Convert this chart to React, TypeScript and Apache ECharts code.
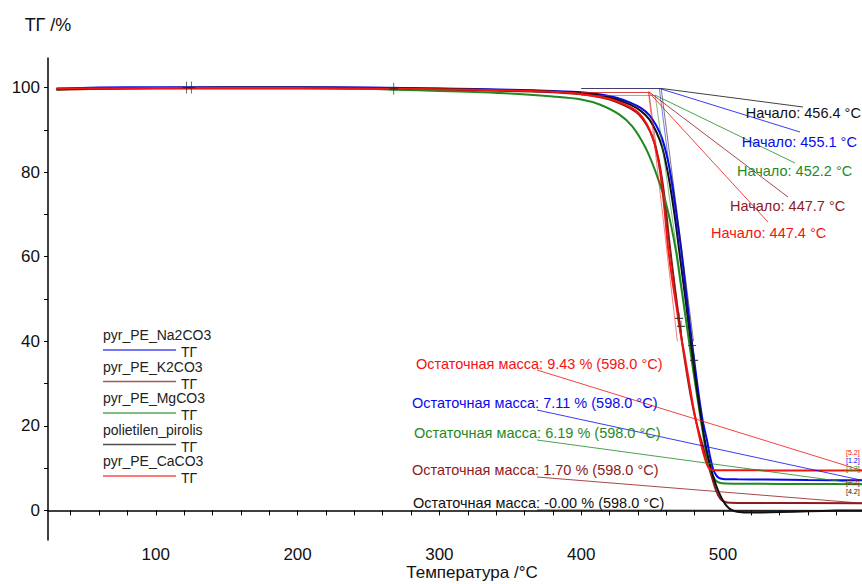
import React, { useEffect, useRef } from "react";
import * as echarts from "echarts";

// ---------- data ----------
const seriesNames = ["pyr_PE_Na2CO3", "pyr_PE_K2CO3", "pyr_PE_MgCO3", "polietilen_pirolis", "pyr_PE_CaCO3"];
const seriesColors = ["#0a0aef", "#8e1b1b", "#1f8a1f", "#111111", "#f51212"];
const legendSuffix = "ТГ";

const na2co3: [number, number][] = [
  [30, 99.8], [60, 100.0], [100, 100.1], [150, 100.1], [200, 100.1], [250, 100.0], [300, 99.8],
  [350, 99.5], [380, 99.2], [400, 98.9], [415, 98.3], [425, 97.6], [435, 96.4], [442, 95.2],
  [448, 93.5], [453, 91], [457, 88], [461, 83], [464, 77.5], [467, 70.5], [470.4, 62], [474, 51.5],
  [478, 40], [482, 29.5], [485.5, 21.5], [488.7, 16.6], [491, 12.5], [493, 9.8], [495, 8.4],
  [497, 7.7], [500, 7.45], [510, 7.35], [530, 7.3], [560, 7.2], [598, 7.11],
];
const k2co3: [number, number][] = [
  [30, 99.5], [60, 99.7], [100, 99.8], [150, 99.8], [200, 99.8], [250, 99.7], [300, 99.5],
  [350, 99.2], [380, 98.9], [400, 98.4], [415, 97.6], [425, 96.6], [435, 95.0], [441, 93.5],
  [446, 91.2], [450, 88.5], [453, 85.3], [456, 80.5], [459, 73.5], [462, 64], [465, 55.5],
  [468, 47.5], [471, 40], [474, 33.5], [477, 27.5], [480, 22.5], [483, 18.5], [486, 15],
  [489, 11.5], [492, 8], [495, 4.8], [498, 2.8], [501, 2.05], [505, 1.8], [520, 1.75], [598, 1.7],
];
const mgco3: [number, number][] = [
  [30, 99.6], [60, 99.8], [100, 99.9], [150, 99.9], [200, 99.9], [250, 99.7], [270, 99.5],
  [300, 99.2], [330, 98.9], [350, 98.6], [380, 97.9], [400, 97.2], [413, 96.0], [427, 93.6],
  [436, 90.8], [445, 86], [452, 80.5], [459, 73.5], [463, 68], [467, 61], [470, 54], [473, 47],
  [476, 40], [479, 33], [482, 26.5], [485, 20], [488, 14], [491, 9.8], [494, 7.4], [497, 6.6],
  [502, 6.35], [520, 6.3], [560, 6.25], [598, 6.19],
];
const polietilen: [number, number][] = [
  [30, 99.6], [60, 99.8], [100, 99.9], [150, 100.0], [200, 100.0], [250, 99.9], [300, 99.7],
  [350, 99.4], [380, 99.1], [400, 98.7], [415, 98.0], [425, 97.2], [435, 95.9], [442, 94.5],
  [448, 92.5], [453, 89.5], [457, 86], [461, 80], [464, 74], [467, 67], [470, 59], [473.5, 50],
  [477, 40.5], [481, 30], [485, 21], [488, 15], [491, 10.5], [494, 7], [497, 4.3], [500, 2.3],
  [503, 0.9], [506, 0.1], [510, -0.3], [520, -0.5], [540, -0.4], [560, -0.2], [580, -0.05], [598, 0],
];
const caco3: [number, number][] = [
  [30, 99.7], [60, 99.8], [100, 99.9], [150, 99.9], [200, 99.9], [250, 99.8], [300, 99.6],
  [350, 99.3], [380, 99.0], [400, 98.5], [415, 97.7], [425, 96.8], [435, 95.3], [441, 93.8],
  [446, 91.5], [450, 88.5], [453, 85], [456, 79.5], [458.5, 72], [461, 63], [464, 55], [467, 48.5],
  [470, 42], [473, 36.5], [476, 30.5], [479, 24.5], [482, 19.5], [485, 15], [487.5, 12], [490, 10],
  [493, 9.55], [500, 9.5], [550, 9.45], [598, 9.43],
];
const seriesData = [na2co3, k2co3, mgco3, polietilen, caco3];

const onsetTemps = [455.1, 447.7, 452.2, 456.4, 447.4];
const onsetBaseline = [99.8, 99.0, 98.2, 99.8, 99.0];
const tangentStartTemp = 400;
const tangentEndTemps = [477.6, 471.4, 476.3, 479.2, 467.8];
const tangentEndValue = 40;
const residualTexts = ["7.11", "1.70", "6.19", "-0.00", "9.43"];
const residualValues = [7.11, 1.7, 6.19, 0.0, 9.43];
const residualTemp = 598.0;
const curveIds = ["[1.2]", "[2.2]", "[3.2]", "[4.2]", "[5.2]"];
const crossPoints: [number, number][] = [
  [121.6, 100.0], [125.1, 100.0], [267.8, 99.7], [469.0, 45.4], [470.4, 43.5], [478.2, 39.0], [479.6, 35.5],
];

const xLabelValues = [100, 200, 300, 400, 500];
const xTickValues = [40, 60, 80, 100, 120, 140, 160, 180, 200, 220, 240, 260, 280, 300, 320, 340, 360, 380, 400, 420, 440, 460, 480, 500, 520, 540, 560, 580];
const yLabelValues = [0, 20, 40, 60, 80, 100];
const yTickValues = [0, 10, 20, 30, 40, 50, 60, 70, 80, 90, 100];

// ---------- layout (pixels) ----------
const FONT = '"Liberation Sans", Arial, sans-serif';
const onsetLabelPos = [[741.7, 141.7], [730, 206], [737, 170.7], [745.7, 113], [711, 233.3]];
const onsetLeaderEnd = [[800, 132], [788, 197], [795, 163], [803, 107], [768, 222]];
const residualLabelPos = [[412, 403], [412, 470], [414, 433], [413, 503], [416, 364]];
const residualLeaderStart = [[537, 410], [537, 477], [537, 440], [537, 510], [537, 370]];
const curveIdPos = [[846, 460], [846, 482], [846, 468], [846, 491], [846, 452]];
const legendX = 103;
const legendTop = 335;
const legendStep = 31.5;

export default function App() {
  const ref = useRef<HTMLDivElement>(null);
  useEffect(() => {
    const el = ref.current!;
    const chart = echarts.init(el, null, { renderer: "svg" });
    const lineSeries = seriesData.map((d, i) => ({
      type: "line",
      name: seriesNames[i],
      data: d,
      showSymbol: false,
      symbol: "none",
      smooth: 0.3,
      z: 3,
      lineStyle: { color: seriesColors[i], width: 2 },
      itemStyle: { color: seriesColors[i] },
      markLine: {
        silent: true,
        symbol: ["none", "none"],
        label: { show: false },
        lineStyle: { color: seriesColors[i], width: 1, type: "solid", opacity: 0.55 },
        data: [
          [{ coord: [tangentStartTemp, onsetBaseline[i]] }, { coord: [onsetTemps[i], onsetBaseline[i]] }],
          [{ coord: [onsetTemps[i], onsetBaseline[i]] }, { coord: [tangentEndTemps[i], tangentEndValue] }],
        ],
      },
    }));
    chart.setOption({
      animation: false,
      textStyle: { fontFamily: FONT },
      grid: { left: 48, right: 0, top: 58, bottom: 44, containLabel: false, outerBoundsMode: "none" },
      xAxis: {
        type: "value",
        min: 24,
        max: 598,
        name: "Температура /°C",
        nameLocation: "middle",
        nameGap: 24,
        nameMoveOverlap: false,
        nameTextStyle: { fontSize: 17, color: "#111", fontFamily: FONT, padding: [0, 0, 0, 34] },
        axisLine: { show: true, lineStyle: { color: "#000", width: 1.5 } },
        axisTick: { show: true, length: 5, customValues: xTickValues, lineStyle: { color: "#000" } },
        axisLabel: { show: true, customValues: xLabelValues, fontSize: 17, color: "#111", margin: 6 },
        splitLine: { show: false },
      },
      yAxis: {
        type: "value",
        min: -7,
        max: 107,
        name: "ТГ /%",
        nameLocation: "end",
        nameGap: 24,
        nameMoveOverlap: false,
        nameTextStyle: { fontSize: 18, color: "#111", fontFamily: FONT, align: "center" },
        axisLine: { show: true, lineStyle: { color: "#000", width: 1.5 } },
        axisTick: { show: true, length: 4, customValues: yTickValues, lineStyle: { color: "#000" } },
        axisLabel: { show: true, customValues: yLabelValues, fontSize: 17, color: "#111", margin: 8 },
        splitLine: { show: false },
      },
      series: [
        ...lineSeries,
        {
          type: "scatter",
          name: "markers",
          data: crossPoints,
          symbol: "path://M5,0L5,12M0,6L10,6",
          symbolSize: [8, 12],
          z: 4,
          itemStyle: { color: "rgba(0,0,0,0)", borderColor: "#222", borderWidth: 1 },
        },
      ],
    });

    const px = (p: number[]) => chart.convertToPixel({ gridIndex: 0 }, p) as number[];
    const g: any[] = [];
    // legend
    seriesNames.forEach((n, i) => {
      const ty = legendTop + i * legendStep;
      g.push({ type: "text", x: legendX, y: ty, silent: true,
        style: { text: n, fill: "#222", fontSize: 14, fontFamily: FONT, verticalAlign: "middle", align: "left" } });
      g.push({ type: "line", silent: true, shape: { x1: legendX, y1: ty + 15, x2: legendX + 73, y2: ty + 15 },
        style: { stroke: seriesColors[i], lineWidth: 1.5, opacity: 0.75 } });
      g.push({ type: "text", x: legendX + 78, y: ty + 17, silent: true,
        style: { text: legendSuffix, fill: "#222", fontSize: 14, fontFamily: FONT, verticalAlign: "middle", align: "left" } });
    });
    // onset annotations
    onsetTemps.forEach((t, i) => {
      const s = px([t, onsetBaseline[i]]);
      g.push({ type: "line", silent: true, z: 10,
        shape: { x1: s[0], y1: s[1], x2: onsetLeaderEnd[i][0], y2: onsetLeaderEnd[i][1] },
        style: { stroke: seriesColors[i], lineWidth: 1, opacity: 0.8 } });
      g.push({ type: "text", silent: true, z: 11, x: onsetLabelPos[i][0], y: onsetLabelPos[i][1],
        style: { text: `Начало: ${t.toFixed(1)} °C`, fill: seriesColors[i], fontSize: 14.5, fontFamily: FONT,
          verticalAlign: "middle", align: "left" } });
    });
    // residual mass annotations
    residualValues.forEach((v, i) => {
      const e = px([residualTemp, v]);
      g.push({ type: "line", silent: true, z: 10,
        shape: { x1: residualLeaderStart[i][0], y1: residualLeaderStart[i][1], x2: e[0], y2: e[1] },
        style: { stroke: seriesColors[i], lineWidth: 1, opacity: 0.8 } });
      g.push({ type: "text", silent: true, z: 11, x: residualLabelPos[i][0], y: residualLabelPos[i][1],
        style: { text: `Остаточная масса: ${residualTexts[i]} % (${residualTemp.toFixed(1)} °C)`, fill: seriesColors[i],
          fontSize: 14.5, fontFamily: FONT, verticalAlign: "middle", align: "left" } });
      g.push({ type: "text", silent: true, z: 11, x: curveIdPos[i][0], y: curveIdPos[i][1],
        style: { text: curveIds[i], fill: seriesColors[i], fontSize: 7, fontFamily: FONT,
          verticalAlign: "middle", align: "left" } });
    });
    chart.setOption({ graphic: g });
    return () => chart.dispose();
  }, []);
  return (
    <div
      ref={ref}
      style={{ position: "fixed", left: 0, top: 0, width: 862, height: 584, background: "#fff" }}
    />
  );
}
